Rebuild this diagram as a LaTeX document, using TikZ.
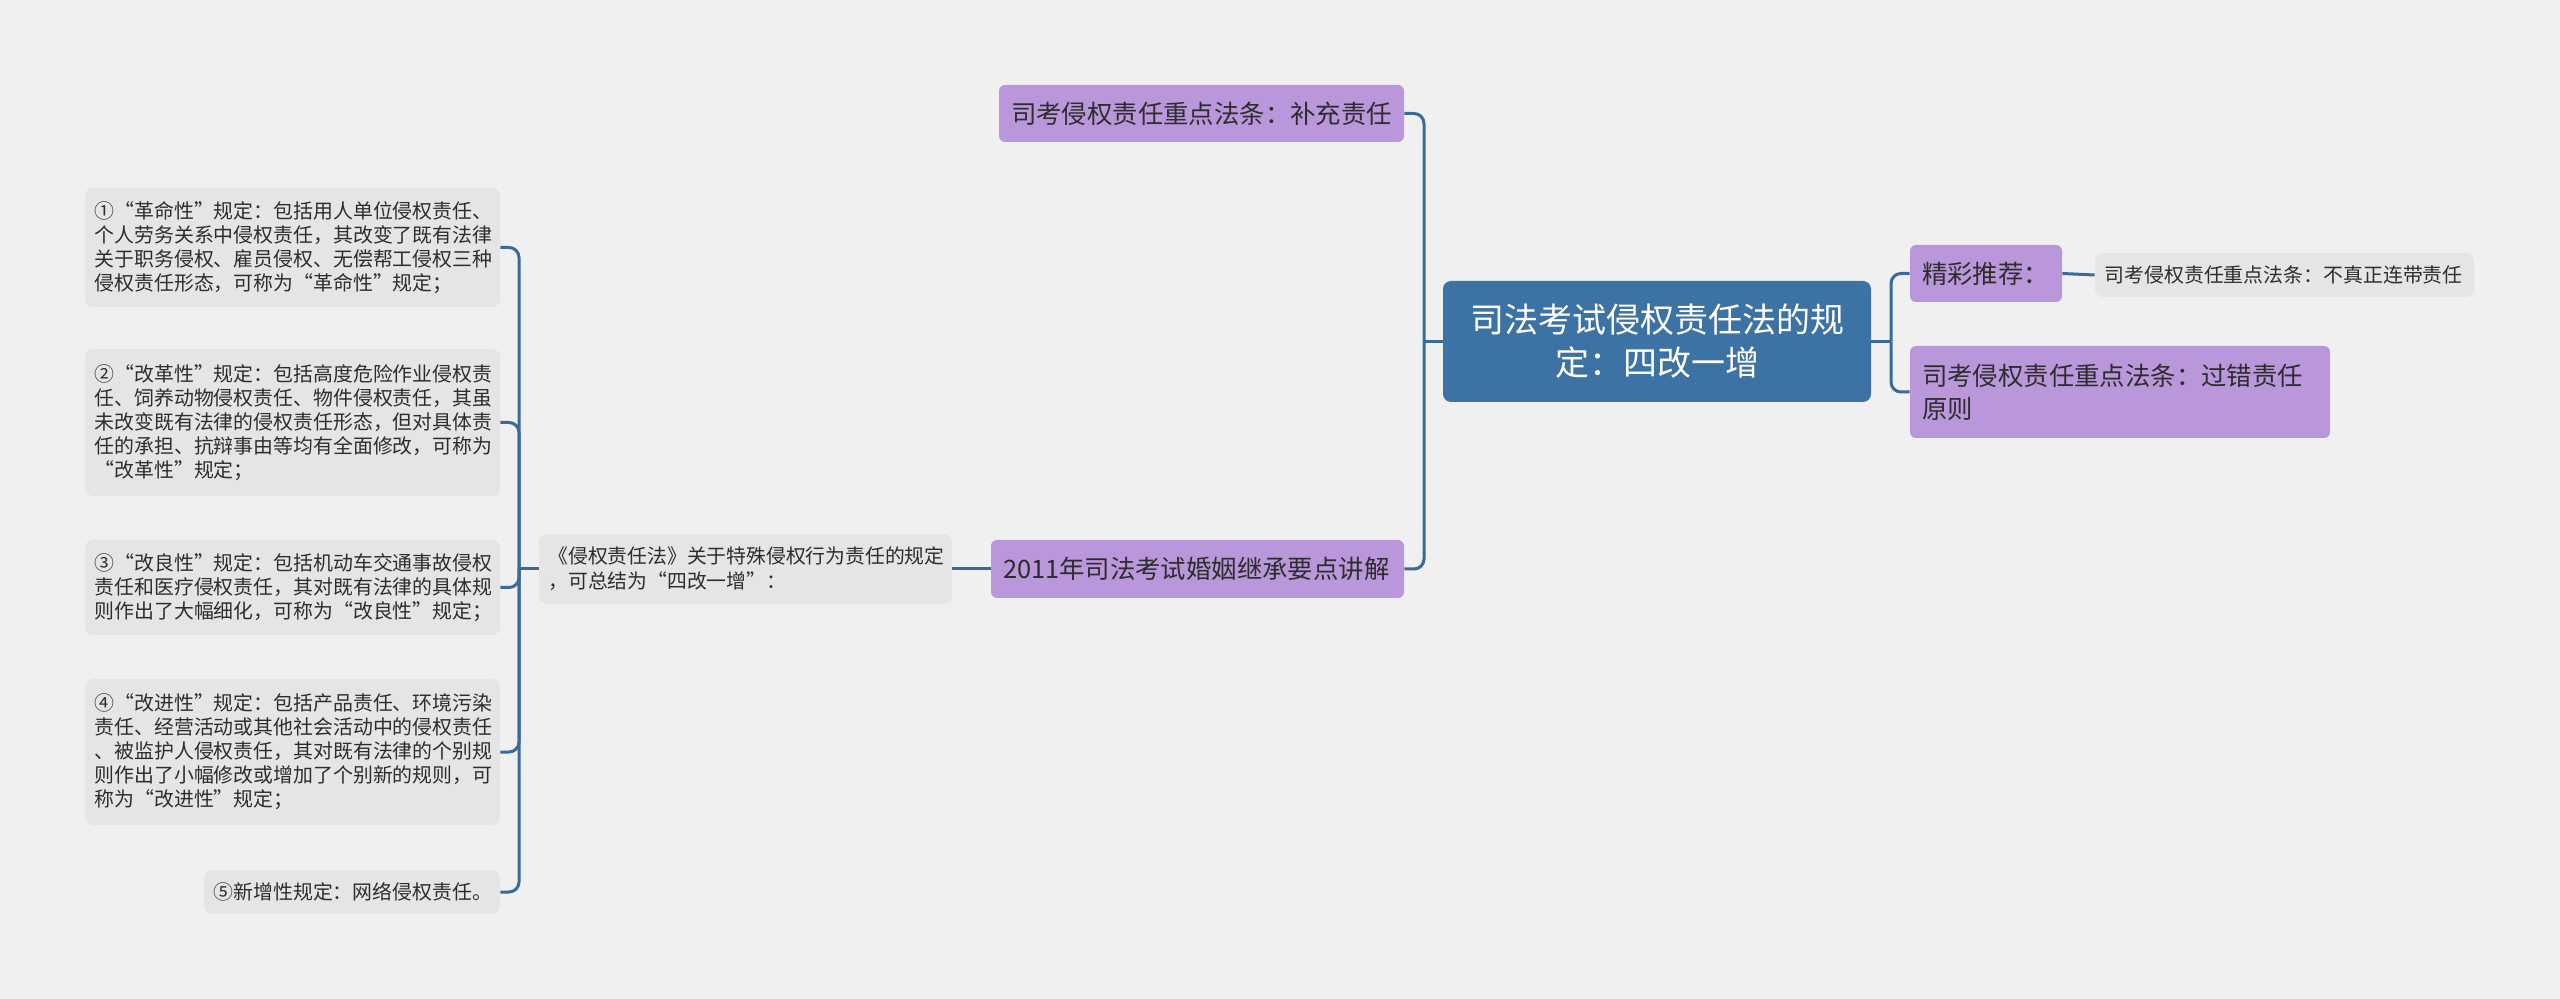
\documentclass[tikz,border=0pt]{standalone}
\usepackage{fontspec}
\setmainfont{Noto Sans CJK SC}
\definecolor{bggray}{RGB}{240,240,240}
\definecolor{rootblue}{RGB}{61,114,164}
\definecolor{lilac}{RGB}{185,151,218}
\definecolor{leafgray}{RGB}{229,229,229}
\definecolor{linkblue}{RGB}{58,106,153}
\definecolor{ink}{RGB}{45,45,45}

\begin{document}
\begin{tikzpicture}[x=0.5pt,y=-0.5pt,
  root/.style={fill=rootblue,text=white,rounded corners=4pt,align=center,inner xsep=10pt,inner ysep=2pt,font=\fontsize{17}{21.5}\selectfont},
  topic/.style={fill=lilac,text=ink,rounded corners=3pt,align=left,inner xsep=6pt,inner ysep=2pt,font=\fontsize{12.7}{16.5}\selectfont},
  leaf/.style={fill=leafgray,text=ink,rounded corners=4pt,align=left,inner xsep=4.75pt,inner ysep=2pt,font=\fontsize{9.95}{12}\selectfont},
  link/.style={draw=linkblue,line width=1.5pt},
  elbow/.style={link,rounded corners=5pt}]
\useasboundingbox[fill=bggray] (0,0) rectangle (2560,999);

\node[root,text width=194pt,minimum height=60.5pt] (root) at (1657,341.5) {司法考试侵权责任法的规\\定：四改一增};
\node[topic,text width=190.5pt,minimum height=28.5pt] (supp) at (1201.5,113.5) {司考侵权责任重点法条：补充责任};
\node[topic,text width=194.5pt,minimum height=29pt] (marr) at (1197.5,569) {2011年司法考试婚姻继承要点讲解};
\node[leaf,text width=197pt,minimum height=35pt,font=\fontsize{9.9}{12.5}\selectfont] (sum) at (745.5,569) {《侵权责任法》关于特殊侵权行为责任的规定\\，可总结为“四改一增”：};

\node[leaf,text width=198pt,minimum height=59.5pt] (l1) at (292.5,247.5) {①“革命性”规定：包括用人单位侵权责任、\\个人劳务关系中侵权责任，其改变了既有法律\\关于职务侵权、雇员侵权、无偿帮工侵权三种\\侵权责任形态，可称为“革命性”规定；};
\node[leaf,text width=198pt,minimum height=73.5pt] (l2) at (292.5,422.5) {②“改革性”规定：包括高度危险作业侵权责\\任、饲养动物侵权责任、物件侵权责任，其虽\\未改变既有法律的侵权责任形态，但对具体责\\任的承担、抗辩事由等均有全面修改，可称为\\“改革性”规定；};
\node[leaf,text width=198pt,minimum height=47.5pt] (l3) at (292.5,587.5) {③“改良性”规定：包括机动车交通事故侵权\\责任和医疗侵权责任，其对既有法律的具体规\\则作出了大幅细化，可称为“改良性”规定；};
\node[leaf,text width=198pt,minimum height=73pt] (l4) at (292.5,752) {④“改进性”规定：包括产品责任、环境污染\\责任、经营活动或其他社会活动中的侵权责任\\、被监护人侵权责任，其对既有法律的个别规\\则作出了小幅修改或增加了个别新的规则，可\\称为“改进性”规定；};
\node[leaf,text width=138.5pt,minimum height=22pt] (l5) at (352,892) {⑤新增性规定：网络侵权责任。};

\node[topic,text width=64pt,minimum height=28.5pt] (pick) at (1986,273.5) {精彩推荐：};
\node[leaf,text width=180pt,minimum height=22pt] (nonj) at (2284.5,275) {司考侵权责任重点法条：不真正连带责任};
\node[topic,text width=198pt,minimum height=46pt] (fault) at (2120,392) {司考侵权责任重点法条：过错责任\\原则};

\coordinate (jl) at (1424,341.5);
\coordinate (jr) at (1891,341.5);
\coordinate (js) at (519,569);
\draw[link] (root.west) -- (jl);
\draw[elbow] (jl) |- (supp.east);
\draw[elbow] (jl) |- (marr.east);
\draw[link] (marr.west) -- (sum.east);
\draw[link] (sum.west) -- (js);
\foreach \n in {l1,l2,l3,l4,l5}
  \draw[elbow] (js) |- (\n.east);
\draw[link] (root.east) -- (jr);
\draw[elbow] (jr) |- (pick.west);
\draw[elbow] (jr) |- (fault.west);
\draw[link] (pick.east) -- (nonj.west);
\end{tikzpicture}
\end{document}
